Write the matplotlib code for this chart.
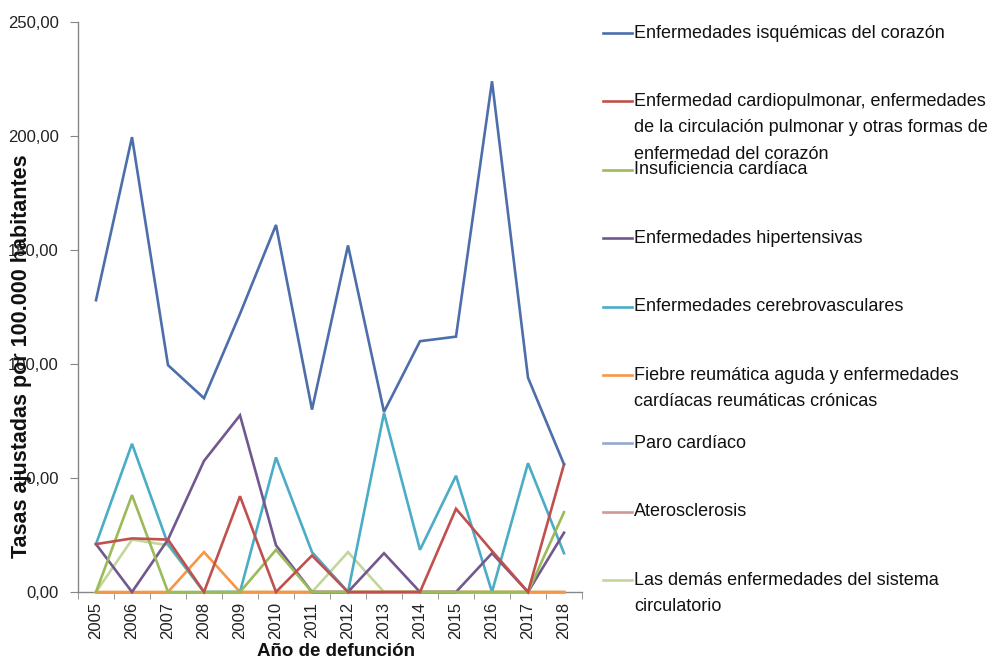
import numpy as np
import matplotlib
matplotlib.use("Agg")
import matplotlib.pyplot as plt
from matplotlib.lines import Line2D

years = ["2005", "2006", "2007", "2008", "2009", "2010", "2011",
         "2012", "2013", "2014", "2015", "2016", "2017", "2018"]

isquemicas = [128, 199.5, 99.5, 85, 122, 161, 80, 152, 79, 110, 112, 224, 94, 56]
cardiopulmonar = [21, 23.5, 23, 0, 42, 0, 16, 0, 0, 0, 36.5, 18, 0, 56]
insuficiencia = [0, 42.5, 0, 0, 0, 18.5, 0, 0, 0, 0, 0, 0, 0, 35]
hipertensivas = [21, 0, 23, 57.5, 77.5, 20.5, 0, 0, 17, 0, 0, 17, 0, 26]
cerebrovasculares = [21, 65, 21, 0, 0, 59, 17.5, 0, 78.5, 18.5, 51, 0, 56.5, 17]
fiebre = [0, 0, 0, 17.5, 0, 0, 0, 0, 0, 0, 0, 0, 0, 0]
paro = [0, 0, 0, 0, 0, 0, 0, 0, 0, 0, 0, 0, 0, 0]
aterosclerosis = [0, 0, 0, 0, 0, 0, 0, 0, 0, 0, 0, 0, 0, 0]
demas = [0, 23, 20.5, 0, 0, 0, 0, 17.5, 0, 0, 0, 0, 0, 0]

labels = [
    "Enfermedades isquémicas del corazón",
    "Enfermedad cardiopulmonar, enfermedades\nde la circulación pulmonar y otras formas de\nenfermedad del corazón",
    "Insuficiencia cardíaca",
    "Enfermedades hipertensivas",
    "Enfermedades cerebrovasculares",
    "Fiebre reumática aguda y enfermedades\ncardíacas reumáticas crónicas",
    "Paro cardíaco",
    "Aterosclerosis",
    "Las demás enfermedades del sistema\ncirculatorio",
]
series = [isquemicas, cardiopulmonar, insuficiencia, hipertensivas,
          cerebrovasculares, fiebre, paro, aterosclerosis, demas]
colors = ["#4D6EAB", "#C0504D", "#9BBB59", "#71588F", "#4BACC6",
          "#F79646", "#95A8D0", "#D09896", "#C3D69B"]

plt.rcParams["font.family"] = ["Liberation Sans", "DejaVu Sans"]

W, H = 1002, 667
fig = plt.figure(figsize=(W / 100, H / 100), dpi=100)
ax = fig.add_axes([78 / W, 1 - 592 / H, (582 - 78) / W, (592 - 22) / H])

x = np.arange(len(years))
# pale near-zero series first so the main ones stay on top
order = [6, 7, 8, 5, 4, 3, 2, 1, 0]
for n, i in enumerate(order):
    ax.plot(x, series[i], color=colors[i], lw=1.9, zorder=3 + n * 0.01,
            solid_joinstyle="miter", clip_on=False)

ax.set_xlim(-0.5, len(years) - 0.5)
ax.set_ylim(0, 250)
yt = np.arange(0, 251, 50)
ax.set_yticks(yt)
ax.set_yticklabels([f"{v:.2f}".replace(".", ",") for v in yt],
                   fontsize=12, color="#222222")
ax.set_xticks(x)
ax.set_xticklabels(years, rotation=90, fontsize=12, color="#222222")
ax.set_xticks(np.arange(-0.5, len(years)), minor=True)
ax.tick_params(axis="x", which="major", length=0, pad=7)
ax.tick_params(axis="x", which="minor", length=5, color="#868686", direction="out")
ax.tick_params(axis="y", length=6, color="#868686", direction="out", pad=8)

for s in ["top", "right"]:
    ax.spines[s].set_visible(False)
for s in ["left", "bottom"]:
    ax.spines[s].set_color("#868686")
    ax.spines[s].set_linewidth(1.0)
    ax.spines[s].set_zorder(2)

fig.text(22 / W, 1 - 356 / H, "Tasas ajustadas por 100.000 habitantes",
         rotation=90, ha="center", va="center", fontsize=15.5,
         fontweight="bold", color="#111111")
fig.text(336 / W, 1 - 652 / H, "Año de defunción", ha="center", va="center",
         fontsize=13.5, fontweight="bold", color="#111111")

# legend drawn by hand: Excel keeps a fixed slot per entry
leg_y0, leg_step, line_step = 33, 68.4, 26.5
for k, (lab, col) in enumerate(zip(labels, colors)):
    yk = leg_y0 + k * leg_step
    fig.add_artist(Line2D([603 / W, 632 / W], [1 - yk / H, 1 - yk / H],
                          color=col, lw=1.9, transform=fig.transFigure))
    for j, part in enumerate(lab.split("\n")):
        fig.text(634 / W, 1 - (yk + j * line_step) / H, part, ha="left",
                 va="center", fontsize=13, color="#111111")

fig.savefig("out.png", dpi=100)
